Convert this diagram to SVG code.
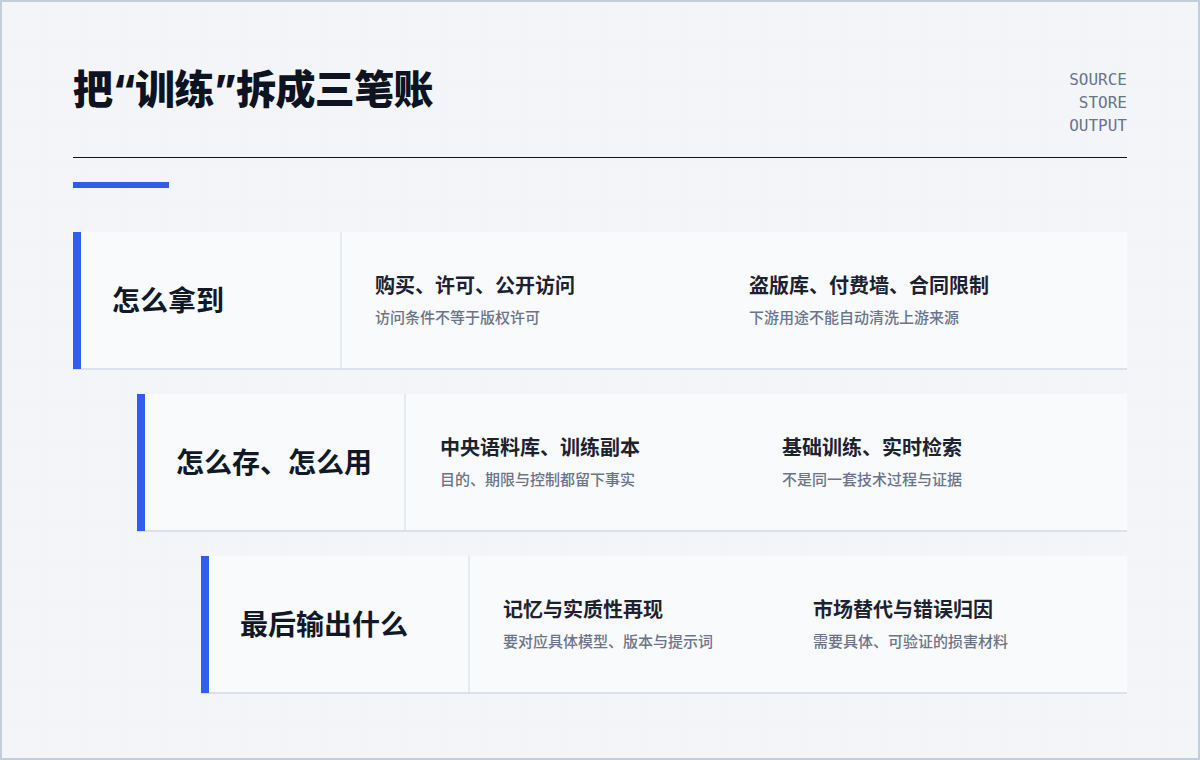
<svg xmlns="http://www.w3.org/2000/svg" width="1200" height="760" viewBox="0 0 1200 760">
  <defs>
    <pattern id="grid" x="2" y="2" width="40" height="40" patternUnits="userSpaceOnUse">
      <path d="M40 0 V40 M0 40 H40" fill="none" stroke="#eff1f5" stroke-width="1"/>
    </pattern>
    <style>
      .cjk { font-family: Inter, "Noto Sans CJK SC", "Noto Sans", sans-serif; }
      .title { font-size: 40px; font-weight: 800; fill: #0d1321; }
      .mono { font-family: "DejaVu Sans Mono", "Liberation Mono", monospace; font-size: 16px; fill: #66758d; text-anchor: end; }
      .card { fill: #f9fafc; }
      .accent { fill: #2f5fe8; }
      .base { stroke: #d3d8e6; stroke-width: 1.5; }
      .div { stroke: #d3d9e6; stroke-width: 1; }
      .label { font-size: 28px; font-weight: 700; fill: #111827; }
      .head { font-size: 20px; font-weight: 700; fill: #1c2230; }
      .sub { font-size: 15px; font-weight: 500; fill: #6b7488; }
    </style>
  </defs>
  <rect x="0" y="0" width="1200" height="760" fill="#f4f5f8"/>
  <rect x="0" y="0" width="1200" height="760" fill="url(#grid)"/>
  <rect x="1" y="1" width="1198" height="758" fill="none" stroke="#c3cedc" stroke-width="2"/>

  <g id="header">
    <text class="cjk title" x="73" y="104" letter-spacing="-0.6">把“训练”拆成三笔账</text>
    <text class="mono" x="1127" y="85">SOURCE</text>
    <text class="mono" x="1127" y="108">STORE</text>
    <text class="mono" x="1127" y="131">OUTPUT</text>
    <line x1="73" y1="157.5" x2="1127" y2="157.5" stroke="#0d1321" stroke-width="1.2"/>
    <rect x="73" y="182" width="96" height="6" class="accent"/>
  </g>

  <g id="connectors"></g>

  <g id="row-source">
    <rect class="card" x="73" y="232" width="1054" height="137"/>
    <line class="base" x1="73" y1="369" x2="1127" y2="369"/>
    <rect class="accent" x="73" y="232" width="8" height="137"/>
    <line class="div" x1="341" y1="232" x2="341" y2="369"/>
    <text class="cjk label" x="112" y="311">怎么拿到</text>
    <text class="cjk head" x="375" y="293">购买、许可、公开访问</text>
    <text class="cjk sub" x="375" y="323">访问条件不等于版权许可</text>
    <text class="cjk head" x="749" y="293">盗版库、付费墙、合同限制</text>
    <text class="cjk sub" x="749" y="323">下游用途不能自动清洗上游来源</text>
  </g>

  <g id="row-store">
    <rect class="card" x="137" y="394" width="990" height="137"/>
    <line class="base" x1="137" y1="531" x2="1127" y2="531"/>
    <rect class="accent" x="137" y="394" width="8" height="137"/>
    <line class="div" x1="405" y1="394" x2="405" y2="531"/>
    <text class="cjk label" x="176" y="473">怎么存、怎么用</text>
    <text class="cjk head" x="440" y="455">中央语料库、训练副本</text>
    <text class="cjk sub" x="440" y="485">目的、期限与控制都留下事实</text>
    <text class="cjk head" x="782" y="455">基础训练、实时检索</text>
    <text class="cjk sub" x="782" y="485">不是同一套技术过程与证据</text>
  </g>

  <g id="row-output">
    <rect class="card" x="201" y="556" width="926" height="137"/>
    <line class="base" x1="201" y1="693" x2="1127" y2="693"/>
    <rect class="accent" x="201" y="556" width="8" height="137"/>
    <line class="div" x1="469" y1="556" x2="469" y2="693"/>
    <text class="cjk label" x="240" y="635">最后输出什么</text>
    <text class="cjk head" x="503" y="617">记忆与实质性再现</text>
    <text class="cjk sub" x="503" y="647">要对应具体模型、版本与提示词</text>
    <text class="cjk head" x="813" y="617">市场替代与错误归因</text>
    <text class="cjk sub" x="813" y="647">需要具体、可验证的损害材料</text>
  </g>
</svg>
